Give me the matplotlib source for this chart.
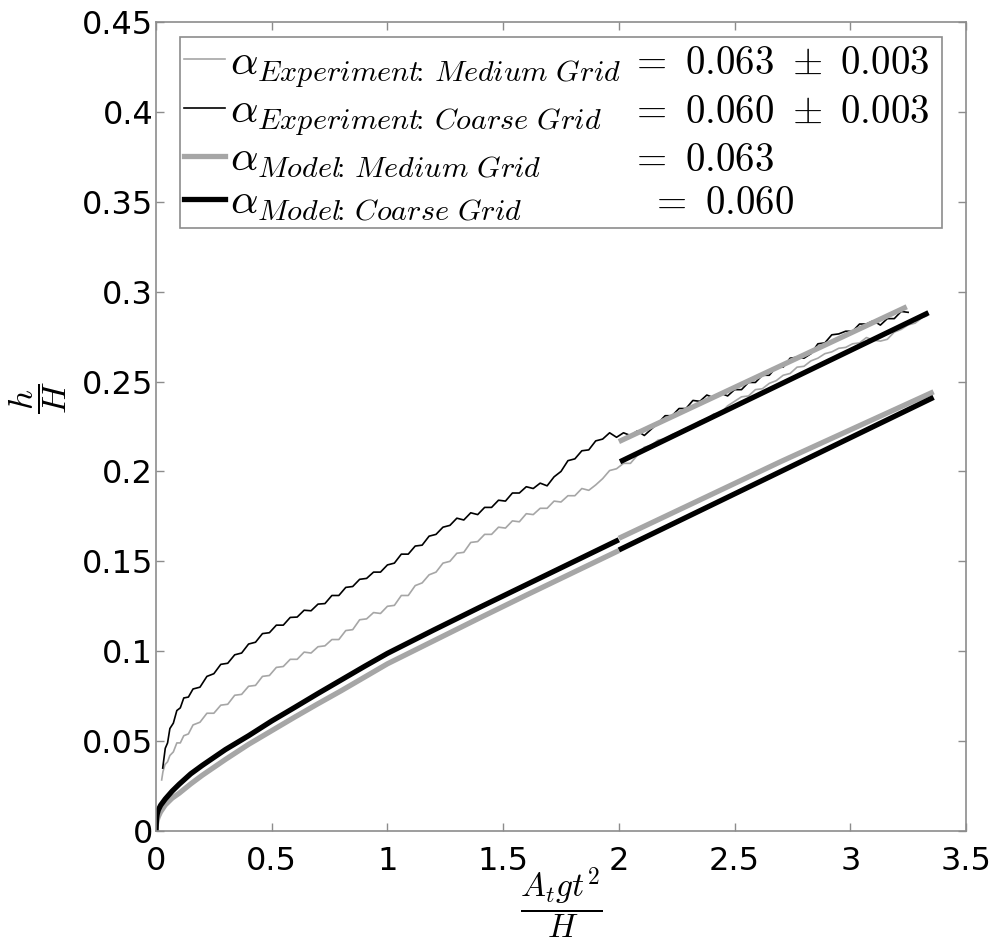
# h/H against A_t g t^2 / H : experiment vs model, medium & coarse grids

import matplotlib
matplotlib.use("Agg")
import matplotlib.pyplot as plt
from matplotlib.lines import Line2D

plt.rcParams['mathtext.fontset'] = 'cm'
plt.rcParams['font.family'] = ['DejaVu Sans']

# ---- experiment, coarse grid (thin black)
exp_coarse_x = [0.029, 0.04, 0.05, 0.06, 0.075, 0.09, 0.105, 0.12, 0.14, 0.16, 0.19, 0.22, 0.25, 0.28,
                0.31, 0.34, 0.37, 0.40, 0.43, 0.46, 0.49, 0.52, 0.55, 0.58, 0.61, 0.64, 0.67, 0.70,
                0.73, 0.76, 0.79, 0.82, 0.85, 0.88, 0.91, 0.94, 0.97, 1.00, 1.03, 1.06, 1.09, 1.12,
                1.15, 1.18, 1.21, 1.24, 1.27, 1.30, 1.33, 1.36, 1.39, 1.42, 1.45, 1.48, 1.51, 1.54,
                1.57, 1.60, 1.63, 1.66, 1.69, 1.72, 1.75, 1.78, 1.81, 1.84, 1.87, 1.90, 1.93, 1.96,
                1.99, 2.02, 2.05, 2.08, 2.11, 2.14, 2.17, 2.20, 2.23, 2.26, 2.29, 2.32, 2.35, 2.38,
                2.41, 2.44, 2.47, 2.50, 2.53, 2.56, 2.59, 2.62, 2.65, 2.68, 2.71, 2.74, 2.77, 2.80,
                2.83, 2.86, 2.89, 2.92, 2.95, 2.98, 3.01, 3.04, 3.07, 3.10, 3.13, 3.16, 3.19, 3.22, 3.25]
exp_coarse_y = [0.035, 0.046, 0.049, 0.057, 0.060, 0.067, 0.0685, 0.074, 0.0745, 0.079, 0.080, 0.086, 0.0875, 0.0927,
                0.0933, 0.098, 0.099, 0.104, 0.105, 0.1098, 0.1103, 0.1145, 0.1145, 0.1188, 0.119, 0.1228, 0.1225, 0.1262,
                0.1265, 0.131, 0.131, 0.1355, 0.136, 0.140, 0.1405, 0.144, 0.144, 0.148, 0.149, 0.154, 0.154, 0.1585,
                0.159, 0.164, 0.165, 0.169, 0.170, 0.174, 0.173, 0.177, 0.176, 0.180, 0.180, 0.184, 0.1835, 0.188,
                0.188, 0.1915, 0.1905, 0.1935, 0.192, 0.197, 0.200, 0.206, 0.207, 0.2115, 0.212, 0.217, 0.218, 0.2215,
                0.219, 0.2215, 0.220, 0.2225, 0.220, 0.2235, 0.227, 0.231, 0.231, 0.235, 0.235, 0.2395, 0.239, 0.2425,
                0.241, 0.2435, 0.242, 0.2455, 0.2455, 0.2495, 0.2495, 0.2535, 0.2535, 0.258, 0.258, 0.263, 0.2635, 0.263,
                0.2655, 0.271, 0.2715, 0.276, 0.2765, 0.278, 0.278, 0.282, 0.282, 0.2838, 0.2814, 0.285, 0.285, 0.289, 0.2885]

# ---- experiment, medium grid (thin grey)
exp_medium_x = [0.0245, 0.03, 0.039, 0.05, 0.06, 0.075, 0.09, 0.105, 0.12, 0.14, 0.16, 0.19, 0.22, 0.25,
                0.28, 0.31, 0.34, 0.37, 0.40, 0.43, 0.46, 0.49, 0.52, 0.55, 0.58, 0.61, 0.64, 0.67,
                0.70, 0.73, 0.76, 0.79, 0.82, 0.85, 0.88, 0.91, 0.94, 0.97, 1.00, 1.03, 1.06, 1.09,
                1.12, 1.15, 1.18, 1.21, 1.24, 1.27, 1.30, 1.33, 1.36, 1.39, 1.42, 1.45, 1.48, 1.51,
                1.54, 1.57, 1.60, 1.63, 1.66, 1.69, 1.72, 1.75, 1.78, 1.81, 1.84, 1.87, 1.90, 1.93,
                1.96, 1.99, 2.02, 2.05, 2.08, 2.11, 2.14, 2.17, 2.20, 2.23, 2.26, 2.29, 2.32, 2.35,
                2.38, 2.41, 2.44, 2.47, 2.50, 2.53, 2.56, 2.59, 2.62, 2.65, 2.68, 2.71, 2.74, 2.77,
                2.80, 2.83, 2.86, 2.89, 2.92, 2.95, 2.98, 3.01, 3.04, 3.07, 3.10, 3.13, 3.16, 3.19,
                3.22, 3.25, 3.28, 3.31, 3.33]
exp_medium_y = [0.0284, 0.033, 0.037, 0.0385, 0.042, 0.044, 0.049, 0.049, 0.053, 0.054, 0.059, 0.0605, 0.0655, 0.0655,
                0.070, 0.0705, 0.0755, 0.076, 0.0805, 0.081, 0.086, 0.0865, 0.091, 0.0915, 0.0955, 0.0955, 0.0995, 0.099,
                0.1025, 0.103, 0.1065, 0.1065, 0.1115, 0.112, 0.1175, 0.118, 0.1215, 0.121, 0.125, 0.1255, 0.131, 0.131,
                0.1365, 0.138, 0.1425, 0.144, 0.149, 0.150, 0.1545, 0.155, 0.1605, 0.161, 0.165, 0.165, 0.169, 0.1685,
                0.1725, 0.172, 0.1765, 0.176, 0.1795, 0.1795, 0.1835, 0.183, 0.1865, 0.1865, 0.1905, 0.1895, 0.1925, 0.196,
                0.2005, 0.2015, 0.2045, 0.2045, 0.209, 0.2135, 0.2145, 0.2175, 0.218, 0.2205, 0.222, 0.224, 0.2255, 0.228,
                0.229, 0.232, 0.2325, 0.2365, 0.239, 0.2415, 0.242, 0.2455, 0.246, 0.249, 0.2505, 0.2535, 0.2545, 0.258,
                0.2585, 0.2615, 0.263, 0.2655, 0.2665, 0.2685, 0.269, 0.271, 0.2715, 0.2745, 0.273, 0.2725, 0.2735, 0.2775,
                0.279, 0.2815, 0.2825, 0.2855, 0.2865]

# ---- model curves (thick); three pieces each
model_x1 = [0, 0.002, 0.005, 0.01, 0.02, 0.04, 0.07, 0.1, 0.15, 0.2, 0.3, 0.4, 0.5, 0.6, 0.7, 0.8, 0.9,
            1.0, 1.2, 1.4, 1.6, 1.8, 2.0]
model_coarse_y1 = [0, 0.0065, 0.0093, 0.0117, 0.0143, 0.0178, 0.0222, 0.026, 0.0318, 0.0365, 0.0453, 0.053,
                   0.0612, 0.0688, 0.0765, 0.084, 0.0915, 0.0988, 0.1118, 0.1245, 0.137, 0.1495, 0.162]
model_medium_y1 = [0, 0.004, 0.006, 0.008, 0.0107, 0.0145, 0.0183, 0.021, 0.0262, 0.031, 0.0398, 0.0482,
                   0.0558, 0.0634, 0.0708, 0.078, 0.0855, 0.093, 0.1058, 0.1186, 0.1312, 0.1436, 0.156]

model_medium_x2 = [2.0, 2.7, 3.36]
model_medium_y2 = [0.1628, 0.2055, 0.2443]
model_coarse_x2 = [2.0, 2.7, 3.36]
model_coarse_y2 = [0.1563, 0.200, 0.2412]

model_medium_x3 = [2.0, 3.244]
model_medium_y3 = [0.2166, 0.2916]
model_coarse_x3 = [2.005, 3.338]
model_coarse_y3 = [0.2054, 0.2883]

legend_labels = [r'$\alpha_{Experiment\!\!:\,Medium\ Grid}$',
                 r'$\alpha_{Experiment\!\!:\,Coarse\ Grid}$',
                 r'$\alpha_{Model\!\!:\,Medium\ Grid}$',
                 r'$\alpha_{Model\!\!:\,Coarse\ Grid}$']
legend_values = [r'$=\ 0.063\ \pm\ 0.003$', r'$=\ 0.060\ \pm\ 0.003$',
                 r'$=\ 0.063$', r'$=\ 0.060$']

x_ticks = [0, 0.5, 1, 1.5, 2, 2.5, 3, 3.5]
x_tick_labels = ['0', '0.5', '1', '1.5', '2', '2.5', '3', '3.5']
y_ticks = [0, 0.05, 0.1, 0.15, 0.2, 0.25, 0.3, 0.35, 0.4, 0.45]
y_tick_labels = ['0', '0.05', '0.1', '0.15', '0.2', '0.25', '0.3', '0.35', '0.4', '0.45']

grey = '#a6a6a6'
frame = '#8c8c8c'
thin = 1.2
thick = 3.8

fig = plt.figure(figsize=(9.97, 9.43), dpi=100)
ax = fig.add_axes([156 / 997, 1 - 831 / 943, 810 / 997, 809 / 943])

ax.plot(exp_medium_x, exp_medium_y, color=grey, lw=thin)
ax.plot(exp_coarse_x, exp_coarse_y, color='black', lw=thin)
ax.plot(model_x1, model_medium_y1, color=grey, lw=thick, solid_capstyle='butt')
ax.plot(model_x1, model_coarse_y1, color='black', lw=thick, solid_capstyle='butt')
ax.plot(model_medium_x2, model_medium_y2, color=grey, lw=thick, solid_capstyle='butt')
ax.plot(model_coarse_x2, model_coarse_y2, color='black', lw=thick, solid_capstyle='butt')
ax.plot(model_medium_x3, model_medium_y3, color=grey, lw=thick, solid_capstyle='butt')
ax.plot(model_coarse_x3, model_coarse_y3, color='black', lw=thick, solid_capstyle='butt')

ax.set_xlim(0, 3.5)
ax.set_ylim(0, 0.45)
ax.set_xticks(x_ticks)
ax.set_xticklabels(x_tick_labels)
ax.set_yticks(y_ticks)
ax.set_yticklabels(y_tick_labels)
ax.tick_params(direction='in', top=True, right=True, length=6, width=1, color=frame,
               labelsize=23, labelcolor='black')
ax.tick_params(axis='x', pad=11)
ax.tick_params(axis='y', pad=2)
for s in ax.spines.values():
    s.set_color(frame)
    s.set_linewidth(1.2)

ax.set_xlabel(r'$\dfrac{A_t g t^2}{H}$', fontsize=24)
ax.set_ylabel(r'$\dfrac{h}{H}$', fontsize=25, rotation=90)
ax.xaxis.set_label_coords(0.5, -0.042)
ax.yaxis.set_label_coords(-0.108, 0.536)

handles = [Line2D([], [], color=grey, lw=thin),
           Line2D([], [], color='black', lw=thin),
           Line2D([], [], color=grey, lw=thick),
           Line2D([], [], color='black', lw=thick)]
leg = ax.legend(handles, legend_labels, loc='upper left',
                bbox_to_anchor=(24 / 810, 0.754, 762 / 810, 0.2275), mode='expand',
                borderaxespad=0, fontsize=31, handlelength=0.95, handletextpad=0.1,
                labelspacing=0.0, borderpad=0.1, fancybox=False, framealpha=1,
                edgecolor=frame)
leg.get_frame().set_linewidth(1.2)

# put the "= value" column next to each legend entry, on the same baseline
fig.canvas.draw()
inv = fig.transFigure.inverted()
for i, t in enumerate(leg.get_texts()):
    bx, by = t.get_transform().transform(t.get_position())
    xfig = (630 if i < 3 else 650) / 997
    yfig = inv.transform((bx, by))[1]
    fig.text(xfig, yfig, legend_values[i], fontsize=28, va='baseline', ha='left')

fig.savefig('out.png', dpi=100)
